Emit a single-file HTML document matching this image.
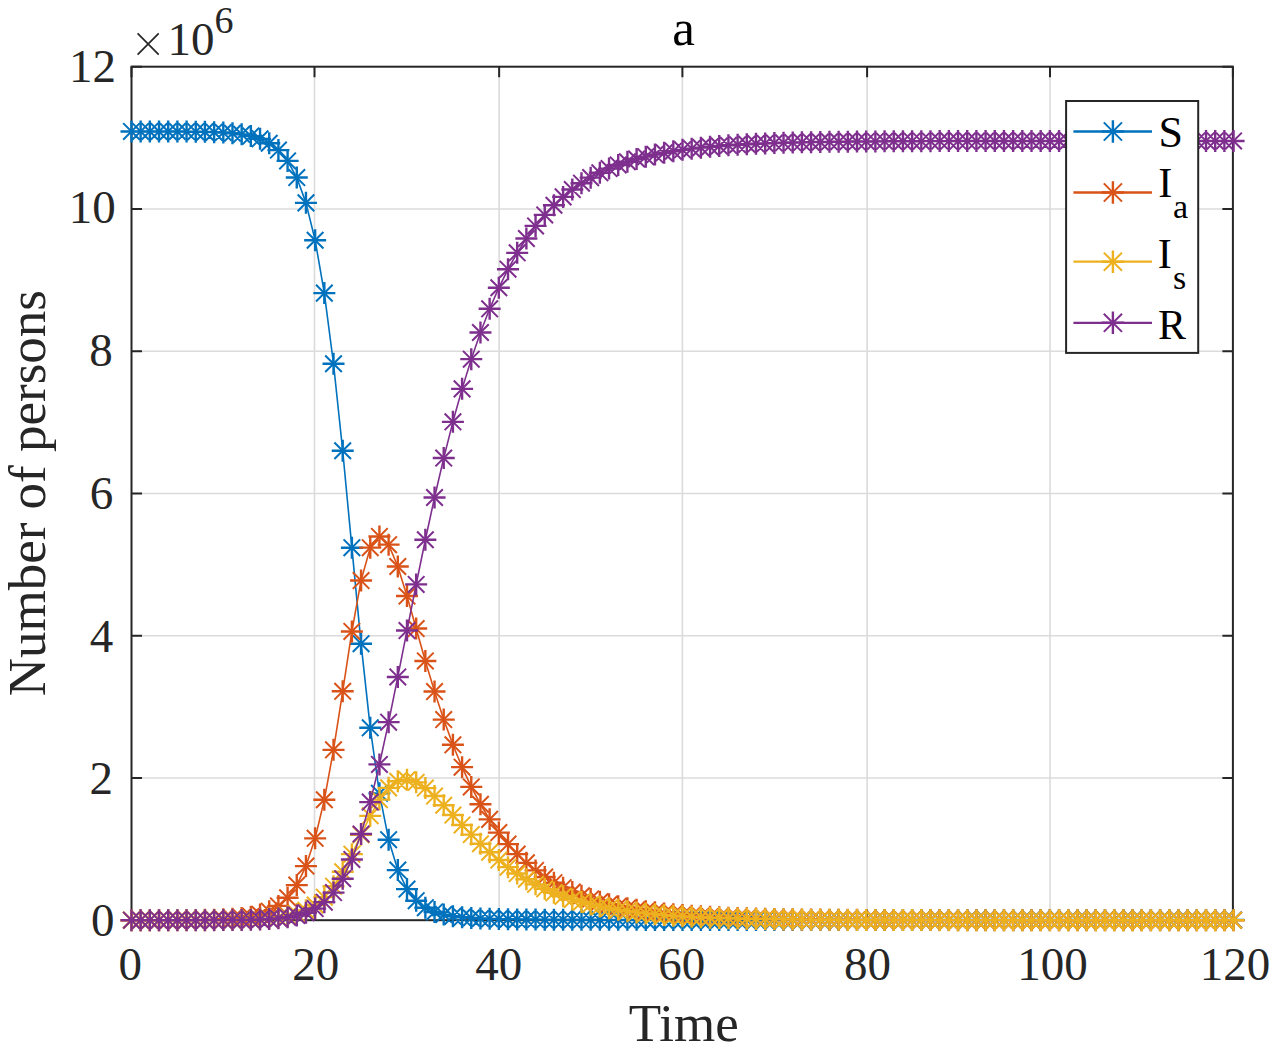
<!DOCTYPE html>
<html><head><meta charset="utf-8"><title>a</title>
<style>html,body{margin:0;padding:0;background:#fff;overflow:hidden}svg{display:block}</style>
</head><body>
<svg width="1275" height="1049" viewBox="0 0 1275 1049">
<rect x="0" y="0" width="1275" height="1049" fill="#fff"/>
<defs><clipPath id="ax"><rect x="131.46" y="66.7" width="1102.1" height="853.5"/></clipPath></defs>
<path d="M314.50 66.70V920.20M499.15 66.70V920.20M682.40 66.70V920.20M867.10 66.70V920.20M1050.00 66.70V920.20M131.50 777.95H1232.90M131.50 635.70H1232.90M131.50 493.45H1232.90M131.50 351.20H1232.90M131.50 208.95H1232.90" stroke="#dbdbdb" stroke-width="1.6" fill="none"/>
<path d="M131.50 920.20V909.70M131.50 66.70V77.20M314.50 920.20V909.70M314.50 66.70V77.20M499.15 920.20V909.70M499.15 66.70V77.20M682.40 920.20V909.70M682.40 66.70V77.20M867.10 920.20V909.70M867.10 66.70V77.20M1050.00 920.20V909.70M1050.00 66.70V77.20M1232.90 920.20V909.70M1232.90 66.70V77.20M131.50 920.20H142.00M1232.90 920.20H1222.40M131.50 777.95H142.00M1232.90 777.95H1222.40M131.50 635.70H142.00M1232.90 635.70H1222.40M131.50 493.45H142.00M1232.90 493.45H1222.40M131.50 351.20H142.00M1232.90 351.20H1222.40M131.50 208.95H142.00M1232.90 208.95H1222.40M131.50 66.70H142.00M1232.90 66.70H1222.40" stroke="#262626" stroke-width="2" fill="none"/>
<rect x="131.50" y="66.70" width="1101.40" height="853.50" stroke="#262626" stroke-width="2" fill="none"/>
<path d="M131.46 131.44L140.64 131.44L149.83 131.45L159.01 131.47L168.20 131.49L177.38 131.53L186.56 131.60L195.75 131.70L204.93 131.87L214.12 132.14L223.30 132.57L232.49 133.26L241.67 134.35L250.85 136.09L260.04 138.85L269.22 143.22L278.41 150.11L287.59 160.90L296.77 177.57L305.96 202.87L315.14 240.23L324.33 293.12L333.51 363.74L342.70 450.75L351.88 547.68L361.06 643.69L370.25 727.79L379.43 793.35L388.62 839.68L397.80 870.09L406.99 889.10L416.17 900.68L425.35 907.68L434.54 911.94L443.72 914.58L452.91 916.24L462.09 917.32L471.27 918.03L480.46 918.52L489.64 918.86L498.83 919.10L508.01 919.28L517.19 919.41L526.38 919.51L535.56 919.59L544.75 919.65L553.93 919.69L563.12 919.73L572.30 919.76L581.48 919.79L590.67 919.81L599.85 919.83L609.04 919.84L618.22 919.85L627.40 919.86L636.59 919.87L645.77 919.88L654.96 919.89L664.14 919.89L673.33 919.90L682.51 919.90L691.69 919.90L700.88 919.91L710.06 919.91L719.25 919.91L728.43 919.91L737.62 919.91L746.80 919.91L755.98 919.92L765.17 919.92L774.35 919.92L783.54 919.92L792.72 919.92L801.90 919.92L811.09 919.92L820.27 919.92L829.46 919.92L838.64 919.92L847.82 919.92L857.01 919.92L866.19 919.92L875.38 919.92L884.56 919.92L893.75 919.92L902.93 919.92L912.11 919.92L921.30 919.92L930.48 919.92L939.67 919.92L948.85 919.92L958.03 919.92L967.22 919.92L976.40 919.92L985.59 919.92L994.77 919.92L1003.96 919.92L1013.14 919.92L1022.32 919.92L1031.51 919.92L1040.69 919.92L1049.88 919.92L1059.06 919.92L1068.24 919.92L1077.43 919.92L1086.61 919.92L1095.80 919.92L1104.98 919.92L1114.17 919.92L1123.35 919.92L1132.53 919.92L1141.72 919.92L1150.90 919.92L1160.09 919.92L1169.27 919.92L1178.45 919.92L1187.64 919.92L1196.82 919.92L1206.01 919.92L1215.19 919.92L1224.38 919.92L1233.56 919.92" stroke="#0072BD" stroke-width="1.6" fill="none" stroke-linejoin="round" clip-path="url(#ax)"/>
<path d="M123.16 123.14L139.76 139.74M123.16 139.74L139.76 123.14M132.34 123.14L148.94 139.74M132.34 139.74L148.94 123.14M141.53 123.15L158.13 139.75M141.53 139.75L158.13 123.15M150.71 123.17L167.31 139.77M150.71 139.77L167.31 123.17M159.90 123.19L176.50 139.79M159.90 139.79L176.50 123.19M169.08 123.23L185.68 139.83M169.08 139.83L185.68 123.23M178.26 123.30L194.87 139.90M178.26 139.90L194.87 123.30M187.45 123.40L204.05 140.00M187.45 140.00L204.05 123.40M196.63 123.57L213.23 140.17M196.63 140.17L213.23 123.57M205.82 123.84L222.42 140.44M205.82 140.44L222.42 123.84M215.00 124.27L231.60 140.87M215.00 140.87L231.60 124.27M224.19 124.96L240.79 141.56M224.19 141.56L240.79 124.96M233.37 126.05L249.97 142.65M233.37 142.65L249.97 126.05M242.55 127.79L259.15 144.39M242.55 144.39L259.15 127.79M251.74 130.55L268.34 147.15M251.74 147.15L268.34 130.55M260.92 134.92L277.52 151.52M260.92 151.52L277.52 134.92M270.11 141.81L286.71 158.41M270.11 158.41L286.71 141.81M279.29 152.60L295.89 169.20M279.29 169.20L295.89 152.60M288.47 169.27L305.07 185.87M288.47 185.87L305.07 169.27M297.66 194.57L314.26 211.17M297.66 211.17L314.26 194.57M306.84 231.93L323.44 248.53M306.84 248.53L323.44 231.93M316.03 284.82L332.63 301.42M316.03 301.42L332.63 284.82M325.21 355.44L341.81 372.04M325.21 372.04L341.81 355.44M334.40 442.45L351.00 459.05M334.40 459.05L351.00 442.45M343.58 539.38L360.18 555.98M343.58 555.98L360.18 539.38M352.76 635.39L369.36 651.99M352.76 651.99L369.36 635.39M361.95 719.49L378.55 736.09M361.95 736.09L378.55 719.49M371.13 785.05L387.73 801.65M371.13 801.65L387.73 785.05M380.32 831.38L396.92 847.98M380.32 847.98L396.92 831.38M389.50 861.79L406.10 878.39M389.50 878.39L406.10 861.79M398.69 880.80L415.29 897.40M398.69 897.40L415.29 880.80M407.87 892.38L424.47 908.98M407.87 908.98L424.47 892.38M417.05 899.38L433.65 915.98M417.05 915.98L433.65 899.38M426.24 903.64L442.84 920.24M426.24 920.24L442.84 903.64M435.42 906.28L452.02 922.88M435.42 922.88L452.02 906.28M444.61 907.94L461.21 924.54M444.61 924.54L461.21 907.94M453.79 909.02L470.39 925.62M453.79 925.62L470.39 909.02M462.97 909.73L479.57 926.33M462.97 926.33L479.57 909.73M472.16 910.22L488.76 926.82M472.16 926.82L488.76 910.22M481.34 910.56L497.94 927.16M481.34 927.16L497.94 910.56M490.53 910.80L507.13 927.40M490.53 927.40L507.13 910.80M499.71 910.98L516.31 927.58M499.71 927.58L516.31 910.98M508.89 911.11L525.49 927.71M508.89 927.71L525.49 911.11M518.08 911.21L534.68 927.81M518.08 927.81L534.68 911.21M527.26 911.29L543.86 927.89M527.26 927.89L543.86 911.29M536.45 911.35L553.05 927.95M536.45 927.95L553.05 911.35M545.63 911.39L562.23 927.99M545.63 927.99L562.23 911.39M554.82 911.43L571.42 928.03M554.82 928.03L571.42 911.43M564.00 911.46L580.60 928.06M564.00 928.06L580.60 911.46M573.18 911.49L589.78 928.09M573.18 928.09L589.78 911.49M582.37 911.51L598.97 928.11M582.37 928.11L598.97 911.51M591.55 911.53L608.15 928.13M591.55 928.13L608.15 911.53M600.74 911.54L617.34 928.14M600.74 928.14L617.34 911.54M609.92 911.55L626.52 928.15M609.92 928.15L626.52 911.55M619.11 911.56L635.70 928.16M619.11 928.16L635.70 911.56M628.29 911.57L644.89 928.17M628.29 928.17L644.89 911.57M637.47 911.58L654.07 928.18M637.47 928.18L654.07 911.58M646.66 911.59L663.26 928.19M646.66 928.19L663.26 911.59M655.84 911.59L672.44 928.19M655.84 928.19L672.44 911.59M665.03 911.60L681.63 928.20M665.03 928.20L681.63 911.60M674.21 911.60L690.81 928.20M674.21 928.20L690.81 911.60M683.39 911.60L699.99 928.20M683.39 928.20L699.99 911.60M692.58 911.61L709.18 928.21M692.58 928.21L709.18 911.61M701.76 911.61L718.36 928.21M701.76 928.21L718.36 911.61M710.95 911.61L727.55 928.21M710.95 928.21L727.55 911.61M720.13 911.61L736.73 928.21M720.13 928.21L736.73 911.61M729.32 911.61L745.91 928.21M729.32 928.21L745.91 911.61M738.50 911.61L755.10 928.21M738.50 928.21L755.10 911.61M747.68 911.62L764.28 928.22M747.68 928.22L764.28 911.62M756.87 911.62L773.47 928.22M756.87 928.22L773.47 911.62M766.05 911.62L782.65 928.22M766.05 928.22L782.65 911.62M775.24 911.62L791.84 928.22M775.24 928.22L791.84 911.62M784.42 911.62L801.02 928.22M784.42 928.22L801.02 911.62M793.60 911.62L810.20 928.22M793.60 928.22L810.20 911.62M802.79 911.62L819.39 928.22M802.79 928.22L819.39 911.62M811.97 911.62L828.57 928.22M811.97 928.22L828.57 911.62M821.16 911.62L837.76 928.22M821.16 928.22L837.76 911.62M830.34 911.62L846.94 928.22M830.34 928.22L846.94 911.62M839.52 911.62L856.12 928.22M839.52 928.22L856.12 911.62M848.71 911.62L865.31 928.22M848.71 928.22L865.31 911.62M857.89 911.62L874.49 928.22M857.89 928.22L874.49 911.62M867.08 911.62L883.68 928.22M867.08 928.22L883.68 911.62M876.26 911.62L892.86 928.22M876.26 928.22L892.86 911.62M885.45 911.62L902.05 928.22M885.45 928.22L902.05 911.62M894.63 911.62L911.23 928.22M894.63 928.22L911.23 911.62M903.81 911.62L920.41 928.22M903.81 928.22L920.41 911.62M913.00 911.62L929.60 928.22M913.00 928.22L929.60 911.62M922.18 911.62L938.78 928.22M922.18 928.22L938.78 911.62M931.37 911.62L947.97 928.22M931.37 928.22L947.97 911.62M940.55 911.62L957.15 928.22M940.55 928.22L957.15 911.62M949.74 911.62L966.33 928.22M949.74 928.22L966.33 911.62M958.92 911.62L975.52 928.22M958.92 928.22L975.52 911.62M968.10 911.62L984.70 928.22M968.10 928.22L984.70 911.62M977.29 911.62L993.89 928.22M977.29 928.22L993.89 911.62M986.47 911.62L1003.07 928.22M986.47 928.22L1003.07 911.62M995.66 911.62L1012.26 928.22M995.66 928.22L1012.26 911.62M1004.84 911.62L1021.44 928.22M1004.84 928.22L1021.44 911.62M1014.02 911.62L1030.62 928.22M1014.02 928.22L1030.62 911.62M1023.21 911.62L1039.81 928.22M1023.21 928.22L1039.81 911.62M1032.39 911.62L1048.99 928.22M1032.39 928.22L1048.99 911.62M1041.58 911.62L1058.18 928.22M1041.58 928.22L1058.18 911.62M1050.76 911.62L1067.36 928.22M1050.76 928.22L1067.36 911.62M1059.94 911.62L1076.54 928.22M1059.94 928.22L1076.54 911.62M1069.13 911.62L1085.73 928.22M1069.13 928.22L1085.73 911.62M1078.31 911.62L1094.91 928.22M1078.31 928.22L1094.91 911.62M1087.50 911.62L1104.10 928.22M1087.50 928.22L1104.10 911.62M1096.68 911.62L1113.28 928.22M1096.68 928.22L1113.28 911.62M1105.87 911.62L1122.47 928.22M1105.87 928.22L1122.47 911.62M1115.05 911.62L1131.65 928.22M1115.05 928.22L1131.65 911.62M1124.23 911.62L1140.83 928.22M1124.23 928.22L1140.83 911.62M1133.42 911.62L1150.02 928.22M1133.42 928.22L1150.02 911.62M1142.60 911.62L1159.20 928.22M1142.60 928.22L1159.20 911.62M1151.79 911.62L1168.39 928.22M1151.79 928.22L1168.39 911.62M1160.97 911.62L1177.57 928.22M1160.97 928.22L1177.57 911.62M1170.15 911.62L1186.75 928.22M1170.15 928.22L1186.75 911.62M1179.34 911.62L1195.94 928.22M1179.34 928.22L1195.94 911.62M1188.52 911.62L1205.12 928.22M1188.52 928.22L1205.12 911.62M1197.71 911.62L1214.31 928.22M1197.71 928.22L1214.31 911.62M1206.89 911.62L1223.49 928.22M1206.89 928.22L1223.49 911.62M1216.08 911.62L1232.68 928.22M1216.08 928.22L1232.68 911.62M1225.26 911.62L1241.86 928.22M1225.26 928.22L1241.86 911.62" stroke="#0072BD" stroke-width="2.0" stroke-dasharray="none" fill="none"/><path d="M120.46 131.44H142.46M131.46 120.44V142.44M129.64 131.44H151.64M140.64 120.44V142.44M138.83 131.45H160.83M149.83 120.45V142.45M148.01 131.47H170.01M159.01 120.47V142.47M157.20 131.49H179.20M168.20 120.49V142.49M166.38 131.53H188.38M177.38 120.53V142.53M175.56 131.60H197.56M186.56 120.60V142.60M184.75 131.70H206.75M195.75 120.70V142.70M193.93 131.87H215.93M204.93 120.87V142.87M203.12 132.14H225.12M214.12 121.14V143.14M212.30 132.57H234.30M223.30 121.57V143.57M221.49 133.26H243.49M232.49 122.26V144.26M230.67 134.35H252.67M241.67 123.35V145.35M239.85 136.09H261.85M250.85 125.09V147.09M249.04 138.85H271.04M260.04 127.85V149.85M258.22 143.22H280.22M269.22 132.22V154.22M267.41 150.11H289.41M278.41 139.11V161.11M276.59 160.90H298.59M287.59 149.90V171.90M285.77 177.57H307.77M296.77 166.57V188.57M294.96 202.87H316.96M305.96 191.87V213.87M304.14 240.23H326.14M315.14 229.23V251.23M313.33 293.12H335.33M324.33 282.12V304.12M322.51 363.74H344.51M333.51 352.74V374.74M331.70 450.75H353.70M342.70 439.75V461.75M340.88 547.68H362.88M351.88 536.68V558.68M350.06 643.69H372.06M361.06 632.69V654.69M359.25 727.79H381.25M370.25 716.79V738.79M368.43 793.35H390.43M379.43 782.35V804.35M377.62 839.68H399.62M388.62 828.68V850.68M386.80 870.09H408.80M397.80 859.09V881.09M395.99 889.10H417.99M406.99 878.10V900.10M405.17 900.68H427.17M416.17 889.68V911.68M414.35 907.68H436.35M425.35 896.68V918.68M423.54 911.94H445.54M434.54 900.94V922.94M432.72 914.58H454.72M443.72 903.58V925.58M441.91 916.24H463.91M452.91 905.24V927.24M451.09 917.32H473.09M462.09 906.32V928.32M460.27 918.03H482.27M471.27 907.03V929.03M469.46 918.52H491.46M480.46 907.52V929.52M478.64 918.86H500.64M489.64 907.86V929.86M487.83 919.10H509.83M498.83 908.10V930.10M497.01 919.28H519.01M508.01 908.28V930.28M506.19 919.41H528.19M517.19 908.41V930.41M515.38 919.51H537.38M526.38 908.51V930.51M524.56 919.59H546.56M535.56 908.59V930.59M533.75 919.65H555.75M544.75 908.65V930.65M542.93 919.69H564.93M553.93 908.69V930.69M552.12 919.73H574.12M563.12 908.73V930.73M561.30 919.76H583.30M572.30 908.76V930.76M570.48 919.79H592.48M581.48 908.79V930.79M579.67 919.81H601.67M590.67 908.81V930.81M588.85 919.83H610.85M599.85 908.83V930.83M598.04 919.84H620.04M609.04 908.84V930.84M607.22 919.85H629.22M618.22 908.85V930.85M616.40 919.86H638.40M627.40 908.86V930.86M625.59 919.87H647.59M636.59 908.87V930.87M634.77 919.88H656.77M645.77 908.88V930.88M643.96 919.89H665.96M654.96 908.89V930.89M653.14 919.89H675.14M664.14 908.89V930.89M662.33 919.90H684.33M673.33 908.90V930.90M671.51 919.90H693.51M682.51 908.90V930.90M680.69 919.90H702.69M691.69 908.90V930.90M689.88 919.91H711.88M700.88 908.91V930.91M699.06 919.91H721.06M710.06 908.91V930.91M708.25 919.91H730.25M719.25 908.91V930.91M717.43 919.91H739.43M728.43 908.91V930.91M726.62 919.91H748.62M737.62 908.91V930.91M735.80 919.91H757.80M746.80 908.91V930.91M744.98 919.92H766.98M755.98 908.92V930.92M754.17 919.92H776.17M765.17 908.92V930.92M763.35 919.92H785.35M774.35 908.92V930.92M772.54 919.92H794.54M783.54 908.92V930.92M781.72 919.92H803.72M792.72 908.92V930.92M790.90 919.92H812.90M801.90 908.92V930.92M800.09 919.92H822.09M811.09 908.92V930.92M809.27 919.92H831.27M820.27 908.92V930.92M818.46 919.92H840.46M829.46 908.92V930.92M827.64 919.92H849.64M838.64 908.92V930.92M836.82 919.92H858.82M847.82 908.92V930.92M846.01 919.92H868.01M857.01 908.92V930.92M855.19 919.92H877.19M866.19 908.92V930.92M864.38 919.92H886.38M875.38 908.92V930.92M873.56 919.92H895.56M884.56 908.92V930.92M882.75 919.92H904.75M893.75 908.92V930.92M891.93 919.92H913.93M902.93 908.92V930.92M901.11 919.92H923.11M912.11 908.92V930.92M910.30 919.92H932.30M921.30 908.92V930.92M919.48 919.92H941.48M930.48 908.92V930.92M928.67 919.92H950.67M939.67 908.92V930.92M937.85 919.92H959.85M948.85 908.92V930.92M947.03 919.92H969.03M958.03 908.92V930.92M956.22 919.92H978.22M967.22 908.92V930.92M965.40 919.92H987.40M976.40 908.92V930.92M974.59 919.92H996.59M985.59 908.92V930.92M983.77 919.92H1005.77M994.77 908.92V930.92M992.96 919.92H1014.96M1003.96 908.92V930.92M1002.14 919.92H1024.14M1013.14 908.92V930.92M1011.32 919.92H1033.32M1022.32 908.92V930.92M1020.51 919.92H1042.51M1031.51 908.92V930.92M1029.69 919.92H1051.69M1040.69 908.92V930.92M1038.88 919.92H1060.88M1049.88 908.92V930.92M1048.06 919.92H1070.06M1059.06 908.92V930.92M1057.24 919.92H1079.24M1068.24 908.92V930.92M1066.43 919.92H1088.43M1077.43 908.92V930.92M1075.61 919.92H1097.61M1086.61 908.92V930.92M1084.80 919.92H1106.80M1095.80 908.92V930.92M1093.98 919.92H1115.98M1104.98 908.92V930.92M1103.17 919.92H1125.17M1114.17 908.92V930.92M1112.35 919.92H1134.35M1123.35 908.92V930.92M1121.53 919.92H1143.53M1132.53 908.92V930.92M1130.72 919.92H1152.72M1141.72 908.92V930.92M1139.90 919.92H1161.90M1150.90 908.92V930.92M1149.09 919.92H1171.09M1160.09 908.92V930.92M1158.27 919.92H1180.27M1169.27 908.92V930.92M1167.45 919.92H1189.45M1178.45 908.92V930.92M1176.64 919.92H1198.64M1187.64 908.92V930.92M1185.82 919.92H1207.82M1196.82 908.92V930.92M1195.01 919.92H1217.01M1206.01 908.92V930.92M1204.19 919.92H1226.19M1215.19 908.92V930.92M1213.38 919.92H1235.38M1224.38 908.92V930.92M1222.56 919.92H1244.56M1233.56 908.92V930.92" stroke="#0072BD" stroke-width="2.4" fill="none"/>
<path d="M131.46 920.19L140.64 920.19L149.83 920.18L159.01 920.17L168.20 920.15L177.38 920.11L186.56 920.06L195.75 919.98L204.93 919.85L214.12 919.65L223.30 919.32L232.49 918.79L241.67 917.96L250.85 916.63L260.04 914.52L269.22 911.18L278.41 905.92L287.59 897.73L296.77 885.11L305.96 866.09L315.14 838.35L324.33 799.78L333.51 749.84L342.70 691.32L351.88 631.46L361.06 580.57L370.25 547.66L379.43 536.45L388.62 544.64L397.80 566.52L406.99 596.06L416.17 628.54L425.35 660.93L434.54 691.55L443.72 719.59L452.91 744.79L462.09 767.17L471.27 786.91L480.46 804.23L489.64 819.37L498.83 832.59L508.01 844.10L517.19 854.12L526.38 862.84L535.56 870.41L544.75 876.99L553.93 882.71L563.12 887.67L572.30 891.98L581.48 895.72L590.67 898.96L599.85 901.78L609.04 904.22L618.22 906.34L627.40 908.18L636.59 909.77L645.77 911.15L654.96 912.35L664.14 913.40L673.33 914.30L682.51 915.08L691.69 915.76L700.88 916.35L710.06 916.86L719.25 917.30L728.43 917.69L737.62 918.02L746.80 918.31L755.98 918.56L765.17 918.78L774.35 918.97L783.54 919.13L792.72 919.27L801.90 919.40L811.09 919.50L820.27 919.60L829.46 919.68L838.64 919.75L847.82 919.81L857.01 919.86L866.19 919.90L875.38 919.94L884.56 919.98L893.75 920.01L902.93 920.03L912.11 920.05L921.30 920.07L930.48 920.09L939.67 920.11L948.85 920.12L958.03 920.13L967.22 920.14L976.40 920.15L985.59 920.15L994.77 920.16L1003.96 920.16L1013.14 920.17L1022.32 920.17L1031.51 920.18L1040.69 920.18L1049.88 920.18L1059.06 920.19L1068.24 920.19L1077.43 920.19L1086.61 920.19L1095.80 920.19L1104.98 920.19L1114.17 920.19L1123.35 920.19L1132.53 920.20L1141.72 920.20L1150.90 920.20L1160.09 920.20L1169.27 920.20L1178.45 920.20L1187.64 920.20L1196.82 920.20L1206.01 920.20L1215.19 920.20L1224.38 920.20L1233.56 920.20" stroke="#D95319" stroke-width="1.6" fill="none" stroke-linejoin="round" clip-path="url(#ax)"/>
<path d="M123.16 911.89L139.76 928.49M123.16 928.49L139.76 911.89M132.34 911.89L148.94 928.49M132.34 928.49L148.94 911.89M141.53 911.88L158.13 928.48M141.53 928.48L158.13 911.88M150.71 911.87L167.31 928.47M150.71 928.47L167.31 911.87M159.90 911.85L176.50 928.45M159.90 928.45L176.50 911.85M169.08 911.81L185.68 928.41M169.08 928.41L185.68 911.81M178.26 911.76L194.87 928.36M178.26 928.36L194.87 911.76M187.45 911.68L204.05 928.28M187.45 928.28L204.05 911.68M196.63 911.55L213.23 928.15M196.63 928.15L213.23 911.55M205.82 911.35L222.42 927.95M205.82 927.95L222.42 911.35M215.00 911.02L231.60 927.62M215.00 927.62L231.60 911.02M224.19 910.49L240.79 927.09M224.19 927.09L240.79 910.49M233.37 909.66L249.97 926.26M233.37 926.26L249.97 909.66M242.55 908.33L259.15 924.93M242.55 924.93L259.15 908.33M251.74 906.22L268.34 922.82M251.74 922.82L268.34 906.22M260.92 902.88L277.52 919.48M260.92 919.48L277.52 902.88M270.11 897.62L286.71 914.22M270.11 914.22L286.71 897.62M279.29 889.43L295.89 906.03M279.29 906.03L295.89 889.43M288.47 876.81L305.07 893.41M288.47 893.41L305.07 876.81M297.66 857.79L314.26 874.39M297.66 874.39L314.26 857.79M306.84 830.05L323.44 846.65M306.84 846.65L323.44 830.05M316.03 791.48L332.63 808.08M316.03 808.08L332.63 791.48M325.21 741.54L341.81 758.14M325.21 758.14L341.81 741.54M334.40 683.02L351.00 699.62M334.40 699.62L351.00 683.02M343.58 623.16L360.18 639.76M343.58 639.76L360.18 623.16M352.76 572.27L369.36 588.87M352.76 588.87L369.36 572.27M361.95 539.36L378.55 555.96M361.95 555.96L378.55 539.36M371.13 528.15L387.73 544.75M371.13 544.75L387.73 528.15M380.32 536.34L396.92 552.94M380.32 552.94L396.92 536.34M389.50 558.22L406.10 574.82M389.50 574.82L406.10 558.22M398.69 587.76L415.29 604.36M398.69 604.36L415.29 587.76M407.87 620.24L424.47 636.84M407.87 636.84L424.47 620.24M417.05 652.63L433.65 669.23M417.05 669.23L433.65 652.63M426.24 683.25L442.84 699.85M426.24 699.85L442.84 683.25M435.42 711.29L452.02 727.89M435.42 727.89L452.02 711.29M444.61 736.49L461.21 753.09M444.61 753.09L461.21 736.49M453.79 758.87L470.39 775.47M453.79 775.47L470.39 758.87M462.97 778.61L479.57 795.21M462.97 795.21L479.57 778.61M472.16 795.93L488.76 812.53M472.16 812.53L488.76 795.93M481.34 811.07L497.94 827.67M481.34 827.67L497.94 811.07M490.53 824.29L507.13 840.89M490.53 840.89L507.13 824.29M499.71 835.80L516.31 852.40M499.71 852.40L516.31 835.80M508.89 845.82L525.49 862.42M508.89 862.42L525.49 845.82M518.08 854.54L534.68 871.14M518.08 871.14L534.68 854.54M527.26 862.11L543.86 878.71M527.26 878.71L543.86 862.11M536.45 868.69L553.05 885.29M536.45 885.29L553.05 868.69M545.63 874.41L562.23 891.01M545.63 891.01L562.23 874.41M554.82 879.37L571.42 895.97M554.82 895.97L571.42 879.37M564.00 883.68L580.60 900.28M564.00 900.28L580.60 883.68M573.18 887.42L589.78 904.02M573.18 904.02L589.78 887.42M582.37 890.66L598.97 907.26M582.37 907.26L598.97 890.66M591.55 893.48L608.15 910.08M591.55 910.08L608.15 893.48M600.74 895.92L617.34 912.52M600.74 912.52L617.34 895.92M609.92 898.04L626.52 914.64M609.92 914.64L626.52 898.04M619.11 899.88L635.70 916.48M619.11 916.48L635.70 899.88M628.29 901.47L644.89 918.07M628.29 918.07L644.89 901.47M637.47 902.85L654.07 919.45M637.47 919.45L654.07 902.85M646.66 904.05L663.26 920.65M646.66 920.65L663.26 904.05M655.84 905.10L672.44 921.70M655.84 921.70L672.44 905.10M665.03 906.00L681.63 922.60M665.03 922.60L681.63 906.00M674.21 906.78L690.81 923.38M674.21 923.38L690.81 906.78M683.39 907.46L699.99 924.06M683.39 924.06L699.99 907.46M692.58 908.05L709.18 924.65M692.58 924.65L709.18 908.05M701.76 908.56L718.36 925.16M701.76 925.16L718.36 908.56M710.95 909.00L727.55 925.60M710.95 925.60L727.55 909.00M720.13 909.39L736.73 925.99M720.13 925.99L736.73 909.39M729.32 909.72L745.91 926.32M729.32 926.32L745.91 909.72M738.50 910.01L755.10 926.61M738.50 926.61L755.10 910.01M747.68 910.26L764.28 926.86M747.68 926.86L764.28 910.26M756.87 910.48L773.47 927.08M756.87 927.08L773.47 910.48M766.05 910.67L782.65 927.27M766.05 927.27L782.65 910.67M775.24 910.83L791.84 927.43M775.24 927.43L791.84 910.83M784.42 910.97L801.02 927.57M784.42 927.57L801.02 910.97M793.60 911.10L810.20 927.70M793.60 927.70L810.20 911.10M802.79 911.20L819.39 927.80M802.79 927.80L819.39 911.20M811.97 911.30L828.57 927.90M811.97 927.90L828.57 911.30M821.16 911.38L837.76 927.98M821.16 927.98L837.76 911.38M830.34 911.45L846.94 928.05M830.34 928.05L846.94 911.45M839.52 911.51L856.12 928.11M839.52 928.11L856.12 911.51M848.71 911.56L865.31 928.16M848.71 928.16L865.31 911.56M857.89 911.60L874.49 928.20M857.89 928.20L874.49 911.60M867.08 911.64L883.68 928.24M867.08 928.24L883.68 911.64M876.26 911.68L892.86 928.28M876.26 928.28L892.86 911.68M885.45 911.71L902.05 928.31M885.45 928.31L902.05 911.71M894.63 911.73L911.23 928.33M894.63 928.33L911.23 911.73M903.81 911.75L920.41 928.35M903.81 928.35L920.41 911.75M913.00 911.77L929.60 928.37M913.00 928.37L929.60 911.77M922.18 911.79L938.78 928.39M922.18 928.39L938.78 911.79M931.37 911.81L947.97 928.41M931.37 928.41L947.97 911.81M940.55 911.82L957.15 928.42M940.55 928.42L957.15 911.82M949.74 911.83L966.33 928.43M949.74 928.43L966.33 911.83M958.92 911.84L975.52 928.44M958.92 928.44L975.52 911.84M968.10 911.85L984.70 928.45M968.10 928.45L984.70 911.85M977.29 911.85L993.89 928.45M977.29 928.45L993.89 911.85M986.47 911.86L1003.07 928.46M986.47 928.46L1003.07 911.86M995.66 911.86L1012.26 928.46M995.66 928.46L1012.26 911.86M1004.84 911.87L1021.44 928.47M1004.84 928.47L1021.44 911.87M1014.02 911.87L1030.62 928.47M1014.02 928.47L1030.62 911.87M1023.21 911.88L1039.81 928.48M1023.21 928.48L1039.81 911.88M1032.39 911.88L1048.99 928.48M1032.39 928.48L1048.99 911.88M1041.58 911.88L1058.18 928.48M1041.58 928.48L1058.18 911.88M1050.76 911.89L1067.36 928.49M1050.76 928.49L1067.36 911.89M1059.94 911.89L1076.54 928.49M1059.94 928.49L1076.54 911.89M1069.13 911.89L1085.73 928.49M1069.13 928.49L1085.73 911.89M1078.31 911.89L1094.91 928.49M1078.31 928.49L1094.91 911.89M1087.50 911.89L1104.10 928.49M1087.50 928.49L1104.10 911.89M1096.68 911.89L1113.28 928.49M1096.68 928.49L1113.28 911.89M1105.87 911.89L1122.47 928.49M1105.87 928.49L1122.47 911.89M1115.05 911.89L1131.65 928.49M1115.05 928.49L1131.65 911.89M1124.23 911.90L1140.83 928.50M1124.23 928.50L1140.83 911.90M1133.42 911.90L1150.02 928.50M1133.42 928.50L1150.02 911.90M1142.60 911.90L1159.20 928.50M1142.60 928.50L1159.20 911.90M1151.79 911.90L1168.39 928.50M1151.79 928.50L1168.39 911.90M1160.97 911.90L1177.57 928.50M1160.97 928.50L1177.57 911.90M1170.15 911.90L1186.75 928.50M1170.15 928.50L1186.75 911.90M1179.34 911.90L1195.94 928.50M1179.34 928.50L1195.94 911.90M1188.52 911.90L1205.12 928.50M1188.52 928.50L1205.12 911.90M1197.71 911.90L1214.31 928.50M1197.71 928.50L1214.31 911.90M1206.89 911.90L1223.49 928.50M1206.89 928.50L1223.49 911.90M1216.08 911.90L1232.68 928.50M1216.08 928.50L1232.68 911.90M1225.26 911.90L1241.86 928.50M1225.26 928.50L1241.86 911.90" stroke="#D95319" stroke-width="2.0" stroke-dasharray="none" fill="none"/><path d="M120.46 920.19H142.46M131.46 909.19V931.19M129.64 920.19H151.64M140.64 909.19V931.19M138.83 920.18H160.83M149.83 909.18V931.18M148.01 920.17H170.01M159.01 909.17V931.17M157.20 920.15H179.20M168.20 909.15V931.15M166.38 920.11H188.38M177.38 909.11V931.11M175.56 920.06H197.56M186.56 909.06V931.06M184.75 919.98H206.75M195.75 908.98V930.98M193.93 919.85H215.93M204.93 908.85V930.85M203.12 919.65H225.12M214.12 908.65V930.65M212.30 919.32H234.30M223.30 908.32V930.32M221.49 918.79H243.49M232.49 907.79V929.79M230.67 917.96H252.67M241.67 906.96V928.96M239.85 916.63H261.85M250.85 905.63V927.63M249.04 914.52H271.04M260.04 903.52V925.52M258.22 911.18H280.22M269.22 900.18V922.18M267.41 905.92H289.41M278.41 894.92V916.92M276.59 897.73H298.59M287.59 886.73V908.73M285.77 885.11H307.77M296.77 874.11V896.11M294.96 866.09H316.96M305.96 855.09V877.09M304.14 838.35H326.14M315.14 827.35V849.35M313.33 799.78H335.33M324.33 788.78V810.78M322.51 749.84H344.51M333.51 738.84V760.84M331.70 691.32H353.70M342.70 680.32V702.32M340.88 631.46H362.88M351.88 620.46V642.46M350.06 580.57H372.06M361.06 569.57V591.57M359.25 547.66H381.25M370.25 536.66V558.66M368.43 536.45H390.43M379.43 525.45V547.45M377.62 544.64H399.62M388.62 533.64V555.64M386.80 566.52H408.80M397.80 555.52V577.52M395.99 596.06H417.99M406.99 585.06V607.06M405.17 628.54H427.17M416.17 617.54V639.54M414.35 660.93H436.35M425.35 649.93V671.93M423.54 691.55H445.54M434.54 680.55V702.55M432.72 719.59H454.72M443.72 708.59V730.59M441.91 744.79H463.91M452.91 733.79V755.79M451.09 767.17H473.09M462.09 756.17V778.17M460.27 786.91H482.27M471.27 775.91V797.91M469.46 804.23H491.46M480.46 793.23V815.23M478.64 819.37H500.64M489.64 808.37V830.37M487.83 832.59H509.83M498.83 821.59V843.59M497.01 844.10H519.01M508.01 833.10V855.10M506.19 854.12H528.19M517.19 843.12V865.12M515.38 862.84H537.38M526.38 851.84V873.84M524.56 870.41H546.56M535.56 859.41V881.41M533.75 876.99H555.75M544.75 865.99V887.99M542.93 882.71H564.93M553.93 871.71V893.71M552.12 887.67H574.12M563.12 876.67V898.67M561.30 891.98H583.30M572.30 880.98V902.98M570.48 895.72H592.48M581.48 884.72V906.72M579.67 898.96H601.67M590.67 887.96V909.96M588.85 901.78H610.85M599.85 890.78V912.78M598.04 904.22H620.04M609.04 893.22V915.22M607.22 906.34H629.22M618.22 895.34V917.34M616.40 908.18H638.40M627.40 897.18V919.18M625.59 909.77H647.59M636.59 898.77V920.77M634.77 911.15H656.77M645.77 900.15V922.15M643.96 912.35H665.96M654.96 901.35V923.35M653.14 913.40H675.14M664.14 902.40V924.40M662.33 914.30H684.33M673.33 903.30V925.30M671.51 915.08H693.51M682.51 904.08V926.08M680.69 915.76H702.69M691.69 904.76V926.76M689.88 916.35H711.88M700.88 905.35V927.35M699.06 916.86H721.06M710.06 905.86V927.86M708.25 917.30H730.25M719.25 906.30V928.30M717.43 917.69H739.43M728.43 906.69V928.69M726.62 918.02H748.62M737.62 907.02V929.02M735.80 918.31H757.80M746.80 907.31V929.31M744.98 918.56H766.98M755.98 907.56V929.56M754.17 918.78H776.17M765.17 907.78V929.78M763.35 918.97H785.35M774.35 907.97V929.97M772.54 919.13H794.54M783.54 908.13V930.13M781.72 919.27H803.72M792.72 908.27V930.27M790.90 919.40H812.90M801.90 908.40V930.40M800.09 919.50H822.09M811.09 908.50V930.50M809.27 919.60H831.27M820.27 908.60V930.60M818.46 919.68H840.46M829.46 908.68V930.68M827.64 919.75H849.64M838.64 908.75V930.75M836.82 919.81H858.82M847.82 908.81V930.81M846.01 919.86H868.01M857.01 908.86V930.86M855.19 919.90H877.19M866.19 908.90V930.90M864.38 919.94H886.38M875.38 908.94V930.94M873.56 919.98H895.56M884.56 908.98V930.98M882.75 920.01H904.75M893.75 909.01V931.01M891.93 920.03H913.93M902.93 909.03V931.03M901.11 920.05H923.11M912.11 909.05V931.05M910.30 920.07H932.30M921.30 909.07V931.07M919.48 920.09H941.48M930.48 909.09V931.09M928.67 920.11H950.67M939.67 909.11V931.11M937.85 920.12H959.85M948.85 909.12V931.12M947.03 920.13H969.03M958.03 909.13V931.13M956.22 920.14H978.22M967.22 909.14V931.14M965.40 920.15H987.40M976.40 909.15V931.15M974.59 920.15H996.59M985.59 909.15V931.15M983.77 920.16H1005.77M994.77 909.16V931.16M992.96 920.16H1014.96M1003.96 909.16V931.16M1002.14 920.17H1024.14M1013.14 909.17V931.17M1011.32 920.17H1033.32M1022.32 909.17V931.17M1020.51 920.18H1042.51M1031.51 909.18V931.18M1029.69 920.18H1051.69M1040.69 909.18V931.18M1038.88 920.18H1060.88M1049.88 909.18V931.18M1048.06 920.19H1070.06M1059.06 909.19V931.19M1057.24 920.19H1079.24M1068.24 909.19V931.19M1066.43 920.19H1088.43M1077.43 909.19V931.19M1075.61 920.19H1097.61M1086.61 909.19V931.19M1084.80 920.19H1106.80M1095.80 909.19V931.19M1093.98 920.19H1115.98M1104.98 909.19V931.19M1103.17 920.19H1125.17M1114.17 909.19V931.19M1112.35 920.19H1134.35M1123.35 909.19V931.19M1121.53 920.20H1143.53M1132.53 909.20V931.20M1130.72 920.20H1152.72M1141.72 909.20V931.20M1139.90 920.20H1161.90M1150.90 909.20V931.20M1149.09 920.20H1171.09M1160.09 909.20V931.20M1158.27 920.20H1180.27M1169.27 909.20V931.20M1167.45 920.20H1189.45M1178.45 909.20V931.20M1176.64 920.20H1198.64M1187.64 909.20V931.20M1185.82 920.20H1207.82M1196.82 909.20V931.20M1195.01 920.20H1217.01M1206.01 909.20V931.20M1204.19 920.20H1226.19M1215.19 909.20V931.20M1213.38 920.20H1235.38M1224.38 909.20V931.20M1222.56 920.20H1244.56M1233.56 909.20V931.20" stroke="#D95319" stroke-width="2.4" fill="none"/>
<path d="M131.46 920.20L140.64 920.20L149.83 920.20L159.01 920.19L168.20 920.19L177.38 920.19L186.56 920.18L195.75 920.16L204.93 920.14L214.12 920.10L223.30 920.04L232.49 919.95L241.67 919.81L250.85 919.57L260.04 919.20L269.22 918.60L278.41 917.67L287.59 916.19L296.77 913.89L305.96 910.34L315.14 904.99L324.33 897.16L333.51 886.18L342.70 871.73L351.88 854.15L361.06 834.80L370.25 815.84L379.43 799.62L388.62 787.87L397.80 781.30L406.99 779.72L416.17 782.33L425.35 788.11L434.54 796.04L443.72 805.25L452.91 815.05L462.09 824.94L471.27 834.58L480.46 843.72L489.64 852.23L498.83 860.04L508.01 867.14L517.19 873.54L526.38 879.26L535.56 884.34L544.75 888.85L553.93 892.82L563.12 896.32L572.30 899.39L581.48 902.08L590.67 904.43L599.85 906.49L609.04 908.28L618.22 909.84L627.40 911.20L636.59 912.38L645.77 913.41L654.96 914.31L664.14 915.09L673.33 915.76L682.51 916.35L691.69 916.86L700.88 917.30L710.06 917.68L719.25 918.02L728.43 918.31L737.62 918.56L746.80 918.78L755.98 918.96L765.17 919.13L774.35 919.27L783.54 919.39L792.72 919.50L801.90 919.59L811.09 919.67L820.27 919.74L829.46 919.80L838.64 919.86L847.82 919.90L857.01 919.94L866.19 919.98L875.38 920.01L884.56 920.03L893.75 920.05L902.93 920.07L912.11 920.09L921.30 920.10L930.48 920.12L939.67 920.13L948.85 920.14L958.03 920.15L967.22 920.15L976.40 920.16L985.59 920.16L994.77 920.17L1003.96 920.17L1013.14 920.18L1022.32 920.18L1031.51 920.18L1040.69 920.19L1049.88 920.19L1059.06 920.19L1068.24 920.19L1077.43 920.19L1086.61 920.19L1095.80 920.19L1104.98 920.19L1114.17 920.20L1123.35 920.20L1132.53 920.20L1141.72 920.20L1150.90 920.20L1160.09 920.20L1169.27 920.20L1178.45 920.20L1187.64 920.20L1196.82 920.20L1206.01 920.20L1215.19 920.20L1224.38 920.20L1233.56 920.20" stroke="#EDB120" stroke-width="1.6" fill="none" stroke-linejoin="round" clip-path="url(#ax)"/>
<path d="M123.16 911.90L139.76 928.50M123.16 928.50L139.76 911.90M132.34 911.90L148.94 928.50M132.34 928.50L148.94 911.90M141.53 911.90L158.13 928.50M141.53 928.50L158.13 911.90M150.71 911.89L167.31 928.49M150.71 928.49L167.31 911.89M159.90 911.89L176.50 928.49M159.90 928.49L176.50 911.89M169.08 911.89L185.68 928.49M169.08 928.49L185.68 911.89M178.26 911.88L194.87 928.48M178.26 928.48L194.87 911.88M187.45 911.86L204.05 928.46M187.45 928.46L204.05 911.86M196.63 911.84L213.23 928.44M196.63 928.44L213.23 911.84M205.82 911.80L222.42 928.40M205.82 928.40L222.42 911.80M215.00 911.74L231.60 928.34M215.00 928.34L231.60 911.74M224.19 911.65L240.79 928.25M224.19 928.25L240.79 911.65M233.37 911.51L249.97 928.11M233.37 928.11L249.97 911.51M242.55 911.27L259.15 927.87M242.55 927.87L259.15 911.27M251.74 910.90L268.34 927.50M251.74 927.50L268.34 910.90M260.92 910.30L277.52 926.90M260.92 926.90L277.52 910.30M270.11 909.37L286.71 925.97M270.11 925.97L286.71 909.37M279.29 907.89L295.89 924.49M279.29 924.49L295.89 907.89M288.47 905.59L305.07 922.19M288.47 922.19L305.07 905.59M297.66 902.04L314.26 918.64M297.66 918.64L314.26 902.04M306.84 896.69L323.44 913.29M306.84 913.29L323.44 896.69M316.03 888.86L332.63 905.46M316.03 905.46L332.63 888.86M325.21 877.88L341.81 894.48M325.21 894.48L341.81 877.88M334.40 863.43L351.00 880.03M334.40 880.03L351.00 863.43M343.58 845.85L360.18 862.45M343.58 862.45L360.18 845.85M352.76 826.50L369.36 843.10M352.76 843.10L369.36 826.50M361.95 807.54L378.55 824.14M361.95 824.14L378.55 807.54M371.13 791.32L387.73 807.92M371.13 807.92L387.73 791.32M380.32 779.57L396.92 796.17M380.32 796.17L396.92 779.57M389.50 773.00L406.10 789.60M389.50 789.60L406.10 773.00M398.69 771.42L415.29 788.02M398.69 788.02L415.29 771.42M407.87 774.03L424.47 790.63M407.87 790.63L424.47 774.03M417.05 779.81L433.65 796.41M417.05 796.41L433.65 779.81M426.24 787.74L442.84 804.34M426.24 804.34L442.84 787.74M435.42 796.95L452.02 813.55M435.42 813.55L452.02 796.95M444.61 806.75L461.21 823.35M444.61 823.35L461.21 806.75M453.79 816.64L470.39 833.24M453.79 833.24L470.39 816.64M462.97 826.28L479.57 842.88M462.97 842.88L479.57 826.28M472.16 835.42L488.76 852.02M472.16 852.02L488.76 835.42M481.34 843.93L497.94 860.53M481.34 860.53L497.94 843.93M490.53 851.74L507.13 868.34M490.53 868.34L507.13 851.74M499.71 858.84L516.31 875.44M499.71 875.44L516.31 858.84M508.89 865.24L525.49 881.84M508.89 881.84L525.49 865.24M518.08 870.96L534.68 887.56M518.08 887.56L534.68 870.96M527.26 876.04L543.86 892.64M527.26 892.64L543.86 876.04M536.45 880.55L553.05 897.15M536.45 897.15L553.05 880.55M545.63 884.52L562.23 901.12M545.63 901.12L562.23 884.52M554.82 888.02L571.42 904.62M554.82 904.62L571.42 888.02M564.00 891.09L580.60 907.69M564.00 907.69L580.60 891.09M573.18 893.78L589.78 910.38M573.18 910.38L589.78 893.78M582.37 896.13L598.97 912.73M582.37 912.73L598.97 896.13M591.55 898.19L608.15 914.79M591.55 914.79L608.15 898.19M600.74 899.98L617.34 916.58M600.74 916.58L617.34 899.98M609.92 901.54L626.52 918.14M609.92 918.14L626.52 901.54M619.11 902.90L635.70 919.50M619.11 919.50L635.70 902.90M628.29 904.08L644.89 920.68M628.29 920.68L644.89 904.08M637.47 905.11L654.07 921.71M637.47 921.71L654.07 905.11M646.66 906.01L663.26 922.61M646.66 922.61L663.26 906.01M655.84 906.79L672.44 923.39M655.84 923.39L672.44 906.79M665.03 907.46L681.63 924.06M665.03 924.06L681.63 907.46M674.21 908.05L690.81 924.65M674.21 924.65L690.81 908.05M683.39 908.56L699.99 925.16M683.39 925.16L699.99 908.56M692.58 909.00L709.18 925.60M692.58 925.60L709.18 909.00M701.76 909.38L718.36 925.98M701.76 925.98L718.36 909.38M710.95 909.72L727.55 926.32M710.95 926.32L727.55 909.72M720.13 910.01L736.73 926.61M720.13 926.61L736.73 910.01M729.32 910.26L745.91 926.86M729.32 926.86L745.91 910.26M738.50 910.48L755.10 927.08M738.50 927.08L755.10 910.48M747.68 910.66L764.28 927.26M747.68 927.26L764.28 910.66M756.87 910.83L773.47 927.43M756.87 927.43L773.47 910.83M766.05 910.97L782.65 927.57M766.05 927.57L782.65 910.97M775.24 911.09L791.84 927.69M775.24 927.69L791.84 911.09M784.42 911.20L801.02 927.80M784.42 927.80L801.02 911.20M793.60 911.29L810.20 927.89M793.60 927.89L810.20 911.29M802.79 911.37L819.39 927.97M802.79 927.97L819.39 911.37M811.97 911.44L828.57 928.04M811.97 928.04L828.57 911.44M821.16 911.50L837.76 928.10M821.16 928.10L837.76 911.50M830.34 911.56L846.94 928.16M830.34 928.16L846.94 911.56M839.52 911.60L856.12 928.20M839.52 928.20L856.12 911.60M848.71 911.64L865.31 928.24M848.71 928.24L865.31 911.64M857.89 911.68L874.49 928.28M857.89 928.28L874.49 911.68M867.08 911.71L883.68 928.31M867.08 928.31L883.68 911.71M876.26 911.73L892.86 928.33M876.26 928.33L892.86 911.73M885.45 911.75L902.05 928.35M885.45 928.35L902.05 911.75M894.63 911.77L911.23 928.37M894.63 928.37L911.23 911.77M903.81 911.79L920.41 928.39M903.81 928.39L920.41 911.79M913.00 911.80L929.60 928.40M913.00 928.40L929.60 911.80M922.18 911.82L938.78 928.42M922.18 928.42L938.78 911.82M931.37 911.83L947.97 928.43M931.37 928.43L947.97 911.83M940.55 911.84L957.15 928.44M940.55 928.44L957.15 911.84M949.74 911.85L966.33 928.45M949.74 928.45L966.33 911.85M958.92 911.85L975.52 928.45M958.92 928.45L975.52 911.85M968.10 911.86L984.70 928.46M968.10 928.46L984.70 911.86M977.29 911.86L993.89 928.46M977.29 928.46L993.89 911.86M986.47 911.87L1003.07 928.47M986.47 928.47L1003.07 911.87M995.66 911.87L1012.26 928.47M995.66 928.47L1012.26 911.87M1004.84 911.88L1021.44 928.48M1004.84 928.48L1021.44 911.88M1014.02 911.88L1030.62 928.48M1014.02 928.48L1030.62 911.88M1023.21 911.88L1039.81 928.48M1023.21 928.48L1039.81 911.88M1032.39 911.89L1048.99 928.49M1032.39 928.49L1048.99 911.89M1041.58 911.89L1058.18 928.49M1041.58 928.49L1058.18 911.89M1050.76 911.89L1067.36 928.49M1050.76 928.49L1067.36 911.89M1059.94 911.89L1076.54 928.49M1059.94 928.49L1076.54 911.89M1069.13 911.89L1085.73 928.49M1069.13 928.49L1085.73 911.89M1078.31 911.89L1094.91 928.49M1078.31 928.49L1094.91 911.89M1087.50 911.89L1104.10 928.49M1087.50 928.49L1104.10 911.89M1096.68 911.89L1113.28 928.49M1096.68 928.49L1113.28 911.89M1105.87 911.90L1122.47 928.50M1105.87 928.50L1122.47 911.90M1115.05 911.90L1131.65 928.50M1115.05 928.50L1131.65 911.90M1124.23 911.90L1140.83 928.50M1124.23 928.50L1140.83 911.90M1133.42 911.90L1150.02 928.50M1133.42 928.50L1150.02 911.90M1142.60 911.90L1159.20 928.50M1142.60 928.50L1159.20 911.90M1151.79 911.90L1168.39 928.50M1151.79 928.50L1168.39 911.90M1160.97 911.90L1177.57 928.50M1160.97 928.50L1177.57 911.90M1170.15 911.90L1186.75 928.50M1170.15 928.50L1186.75 911.90M1179.34 911.90L1195.94 928.50M1179.34 928.50L1195.94 911.90M1188.52 911.90L1205.12 928.50M1188.52 928.50L1205.12 911.90M1197.71 911.90L1214.31 928.50M1197.71 928.50L1214.31 911.90M1206.89 911.90L1223.49 928.50M1206.89 928.50L1223.49 911.90M1216.08 911.90L1232.68 928.50M1216.08 928.50L1232.68 911.90M1225.26 911.90L1241.86 928.50M1225.26 928.50L1241.86 911.90" stroke="#EDB120" stroke-width="2.0" stroke-dasharray="none" fill="none"/><path d="M120.46 920.20H142.46M131.46 909.20V931.20M129.64 920.20H151.64M140.64 909.20V931.20M138.83 920.20H160.83M149.83 909.20V931.20M148.01 920.19H170.01M159.01 909.19V931.19M157.20 920.19H179.20M168.20 909.19V931.19M166.38 920.19H188.38M177.38 909.19V931.19M175.56 920.18H197.56M186.56 909.18V931.18M184.75 920.16H206.75M195.75 909.16V931.16M193.93 920.14H215.93M204.93 909.14V931.14M203.12 920.10H225.12M214.12 909.10V931.10M212.30 920.04H234.30M223.30 909.04V931.04M221.49 919.95H243.49M232.49 908.95V930.95M230.67 919.81H252.67M241.67 908.81V930.81M239.85 919.57H261.85M250.85 908.57V930.57M249.04 919.20H271.04M260.04 908.20V930.20M258.22 918.60H280.22M269.22 907.60V929.60M267.41 917.67H289.41M278.41 906.67V928.67M276.59 916.19H298.59M287.59 905.19V927.19M285.77 913.89H307.77M296.77 902.89V924.89M294.96 910.34H316.96M305.96 899.34V921.34M304.14 904.99H326.14M315.14 893.99V915.99M313.33 897.16H335.33M324.33 886.16V908.16M322.51 886.18H344.51M333.51 875.18V897.18M331.70 871.73H353.70M342.70 860.73V882.73M340.88 854.15H362.88M351.88 843.15V865.15M350.06 834.80H372.06M361.06 823.80V845.80M359.25 815.84H381.25M370.25 804.84V826.84M368.43 799.62H390.43M379.43 788.62V810.62M377.62 787.87H399.62M388.62 776.87V798.87M386.80 781.30H408.80M397.80 770.30V792.30M395.99 779.72H417.99M406.99 768.72V790.72M405.17 782.33H427.17M416.17 771.33V793.33M414.35 788.11H436.35M425.35 777.11V799.11M423.54 796.04H445.54M434.54 785.04V807.04M432.72 805.25H454.72M443.72 794.25V816.25M441.91 815.05H463.91M452.91 804.05V826.05M451.09 824.94H473.09M462.09 813.94V835.94M460.27 834.58H482.27M471.27 823.58V845.58M469.46 843.72H491.46M480.46 832.72V854.72M478.64 852.23H500.64M489.64 841.23V863.23M487.83 860.04H509.83M498.83 849.04V871.04M497.01 867.14H519.01M508.01 856.14V878.14M506.19 873.54H528.19M517.19 862.54V884.54M515.38 879.26H537.38M526.38 868.26V890.26M524.56 884.34H546.56M535.56 873.34V895.34M533.75 888.85H555.75M544.75 877.85V899.85M542.93 892.82H564.93M553.93 881.82V903.82M552.12 896.32H574.12M563.12 885.32V907.32M561.30 899.39H583.30M572.30 888.39V910.39M570.48 902.08H592.48M581.48 891.08V913.08M579.67 904.43H601.67M590.67 893.43V915.43M588.85 906.49H610.85M599.85 895.49V917.49M598.04 908.28H620.04M609.04 897.28V919.28M607.22 909.84H629.22M618.22 898.84V920.84M616.40 911.20H638.40M627.40 900.20V922.20M625.59 912.38H647.59M636.59 901.38V923.38M634.77 913.41H656.77M645.77 902.41V924.41M643.96 914.31H665.96M654.96 903.31V925.31M653.14 915.09H675.14M664.14 904.09V926.09M662.33 915.76H684.33M673.33 904.76V926.76M671.51 916.35H693.51M682.51 905.35V927.35M680.69 916.86H702.69M691.69 905.86V927.86M689.88 917.30H711.88M700.88 906.30V928.30M699.06 917.68H721.06M710.06 906.68V928.68M708.25 918.02H730.25M719.25 907.02V929.02M717.43 918.31H739.43M728.43 907.31V929.31M726.62 918.56H748.62M737.62 907.56V929.56M735.80 918.78H757.80M746.80 907.78V929.78M744.98 918.96H766.98M755.98 907.96V929.96M754.17 919.13H776.17M765.17 908.13V930.13M763.35 919.27H785.35M774.35 908.27V930.27M772.54 919.39H794.54M783.54 908.39V930.39M781.72 919.50H803.72M792.72 908.50V930.50M790.90 919.59H812.90M801.90 908.59V930.59M800.09 919.67H822.09M811.09 908.67V930.67M809.27 919.74H831.27M820.27 908.74V930.74M818.46 919.80H840.46M829.46 908.80V930.80M827.64 919.86H849.64M838.64 908.86V930.86M836.82 919.90H858.82M847.82 908.90V930.90M846.01 919.94H868.01M857.01 908.94V930.94M855.19 919.98H877.19M866.19 908.98V930.98M864.38 920.01H886.38M875.38 909.01V931.01M873.56 920.03H895.56M884.56 909.03V931.03M882.75 920.05H904.75M893.75 909.05V931.05M891.93 920.07H913.93M902.93 909.07V931.07M901.11 920.09H923.11M912.11 909.09V931.09M910.30 920.10H932.30M921.30 909.10V931.10M919.48 920.12H941.48M930.48 909.12V931.12M928.67 920.13H950.67M939.67 909.13V931.13M937.85 920.14H959.85M948.85 909.14V931.14M947.03 920.15H969.03M958.03 909.15V931.15M956.22 920.15H978.22M967.22 909.15V931.15M965.40 920.16H987.40M976.40 909.16V931.16M974.59 920.16H996.59M985.59 909.16V931.16M983.77 920.17H1005.77M994.77 909.17V931.17M992.96 920.17H1014.96M1003.96 909.17V931.17M1002.14 920.18H1024.14M1013.14 909.18V931.18M1011.32 920.18H1033.32M1022.32 909.18V931.18M1020.51 920.18H1042.51M1031.51 909.18V931.18M1029.69 920.19H1051.69M1040.69 909.19V931.19M1038.88 920.19H1060.88M1049.88 909.19V931.19M1048.06 920.19H1070.06M1059.06 909.19V931.19M1057.24 920.19H1079.24M1068.24 909.19V931.19M1066.43 920.19H1088.43M1077.43 909.19V931.19M1075.61 920.19H1097.61M1086.61 909.19V931.19M1084.80 920.19H1106.80M1095.80 909.19V931.19M1093.98 920.19H1115.98M1104.98 909.19V931.19M1103.17 920.20H1125.17M1114.17 909.20V931.20M1112.35 920.20H1134.35M1123.35 909.20V931.20M1121.53 920.20H1143.53M1132.53 909.20V931.20M1130.72 920.20H1152.72M1141.72 909.20V931.20M1139.90 920.20H1161.90M1150.90 909.20V931.20M1149.09 920.20H1171.09M1160.09 909.20V931.20M1158.27 920.20H1180.27M1169.27 909.20V931.20M1167.45 920.20H1189.45M1178.45 909.20V931.20M1176.64 920.20H1198.64M1187.64 909.20V931.20M1185.82 920.20H1207.82M1196.82 909.20V931.20M1195.01 920.20H1217.01M1206.01 909.20V931.20M1204.19 920.20H1226.19M1215.19 909.20V931.20M1213.38 920.20H1235.38M1224.38 909.20V931.20M1222.56 920.20H1244.56M1233.56 909.20V931.20" stroke="#EDB120" stroke-width="2.4" fill="none"/>
<path d="M131.46 920.20L140.64 920.20L149.83 920.20L159.01 920.20L168.20 920.19L177.38 920.19L186.56 920.18L195.75 920.17L204.93 920.16L214.12 920.13L223.30 920.09L232.49 920.02L241.67 919.91L250.85 919.74L260.04 919.47L269.22 919.03L278.41 918.34L287.59 917.24L296.77 915.51L305.96 912.80L315.14 908.59L324.33 902.17L333.51 892.58L342.70 878.71L351.88 859.44L361.06 833.97L370.25 802.10L379.43 764.41L388.62 722.15L397.80 676.96L406.99 630.55L416.17 584.42L425.35 539.78L434.54 497.48L443.72 458.07L452.91 421.83L462.09 388.87L471.27 359.14L480.46 332.52L489.64 308.81L498.83 287.78L508.01 269.21L517.19 252.86L526.38 238.50L535.56 225.91L544.75 214.90L553.93 205.27L563.12 196.88L572.30 189.56L581.48 183.18L590.67 177.63L599.85 172.80L609.04 168.60L618.22 164.95L627.40 161.78L636.59 159.03L645.77 156.64L654.96 154.56L664.14 152.76L673.33 151.19L682.51 149.83L691.69 148.66L700.88 147.63L710.06 146.75L719.25 145.98L728.43 145.31L737.62 144.73L746.80 144.23L755.98 143.79L765.17 143.42L774.35 143.09L783.54 142.80L792.72 142.56L801.90 142.34L811.09 142.16L820.27 142.00L829.46 141.86L838.64 141.74L847.82 141.63L857.01 141.54L866.19 141.46L875.38 141.39L884.56 141.33L893.75 141.28L902.93 141.24L912.11 141.20L921.30 141.17L930.48 141.14L939.67 141.11L948.85 141.09L958.03 141.07L967.22 141.05L976.40 141.04L985.59 141.03L994.77 141.02L1003.96 141.01L1013.14 141.00L1022.32 140.99L1031.51 140.99L1040.69 140.98L1049.88 140.98L1059.06 140.97L1068.24 140.97L1077.43 140.97L1086.61 140.96L1095.80 140.96L1104.98 140.96L1114.17 140.96L1123.35 140.96L1132.53 140.95L1141.72 140.95L1150.90 140.95L1160.09 140.95L1169.27 140.95L1178.45 140.95L1187.64 140.95L1196.82 140.95L1206.01 140.95L1215.19 140.95L1224.38 140.95L1233.56 140.95" stroke="#7E2F8E" stroke-width="1.6" fill="none" stroke-linejoin="round" clip-path="url(#ax)"/>
<path d="M123.16 911.90L139.76 928.50M123.16 928.50L139.76 911.90M132.34 911.90L148.94 928.50M132.34 928.50L148.94 911.90M141.53 911.90L158.13 928.50M141.53 928.50L158.13 911.90M150.71 911.90L167.31 928.50M150.71 928.50L167.31 911.90M159.90 911.89L176.50 928.49M159.90 928.49L176.50 911.89M169.08 911.89L185.68 928.49M169.08 928.49L185.68 911.89M178.26 911.88L194.87 928.48M178.26 928.48L194.87 911.88M187.45 911.87L204.05 928.47M187.45 928.47L204.05 911.87M196.63 911.86L213.23 928.46M196.63 928.46L213.23 911.86M205.82 911.83L222.42 928.43M205.82 928.43L222.42 911.83M215.00 911.79L231.60 928.39M215.00 928.39L231.60 911.79M224.19 911.72L240.79 928.32M224.19 928.32L240.79 911.72M233.37 911.61L249.97 928.21M233.37 928.21L249.97 911.61M242.55 911.44L259.15 928.04M242.55 928.04L259.15 911.44M251.74 911.17L268.34 927.77M251.74 927.77L268.34 911.17M260.92 910.73L277.52 927.33M260.92 927.33L277.52 910.73M270.11 910.04L286.71 926.64M270.11 926.64L286.71 910.04M279.29 908.94L295.89 925.54M279.29 925.54L295.89 908.94M288.47 907.21L305.07 923.81M288.47 923.81L305.07 907.21M297.66 904.50L314.26 921.10M297.66 921.10L314.26 904.50M306.84 900.29L323.44 916.89M306.84 916.89L323.44 900.29M316.03 893.87L332.63 910.47M316.03 910.47L332.63 893.87M325.21 884.28L341.81 900.88M325.21 900.88L341.81 884.28M334.40 870.41L351.00 887.01M334.40 887.01L351.00 870.41M343.58 851.14L360.18 867.74M343.58 867.74L360.18 851.14M352.76 825.67L369.36 842.27M352.76 842.27L369.36 825.67M361.95 793.80L378.55 810.40M361.95 810.40L378.55 793.80M371.13 756.11L387.73 772.71M371.13 772.71L387.73 756.11M380.32 713.85L396.92 730.45M380.32 730.45L396.92 713.85M389.50 668.66L406.10 685.26M389.50 685.26L406.10 668.66M398.69 622.25L415.29 638.85M398.69 638.85L415.29 622.25M407.87 576.12L424.47 592.72M407.87 592.72L424.47 576.12M417.05 531.48L433.65 548.08M417.05 548.08L433.65 531.48M426.24 489.18L442.84 505.78M426.24 505.78L442.84 489.18M435.42 449.77L452.02 466.37M435.42 466.37L452.02 449.77M444.61 413.53L461.21 430.13M444.61 430.13L461.21 413.53M453.79 380.57L470.39 397.17M453.79 397.17L470.39 380.57M462.97 350.84L479.57 367.44M462.97 367.44L479.57 350.84M472.16 324.22L488.76 340.82M472.16 340.82L488.76 324.22M481.34 300.51L497.94 317.11M481.34 317.11L497.94 300.51M490.53 279.48L507.13 296.08M490.53 296.08L507.13 279.48M499.71 260.91L516.31 277.51M499.71 277.51L516.31 260.91M508.89 244.56L525.49 261.16M508.89 261.16L525.49 244.56M518.08 230.20L534.68 246.80M518.08 246.80L534.68 230.20M527.26 217.61L543.86 234.21M527.26 234.21L543.86 217.61M536.45 206.60L553.05 223.20M536.45 223.20L553.05 206.60M545.63 196.97L562.23 213.57M545.63 213.57L562.23 196.97M554.82 188.58L571.42 205.18M554.82 205.18L571.42 188.58M564.00 181.26L580.60 197.86M564.00 197.86L580.60 181.26M573.18 174.88L589.78 191.48M573.18 191.48L589.78 174.88M582.37 169.33L598.97 185.93M582.37 185.93L598.97 169.33M591.55 164.50L608.15 181.10M591.55 181.10L608.15 164.50M600.74 160.30L617.34 176.90M600.74 176.90L617.34 160.30M609.92 156.65L626.52 173.25M609.92 173.25L626.52 156.65M619.11 153.48L635.70 170.08M619.11 170.08L635.70 153.48M628.29 150.73L644.89 167.33M628.29 167.33L644.89 150.73M637.47 148.34L654.07 164.94M637.47 164.94L654.07 148.34M646.66 146.26L663.26 162.86M646.66 162.86L663.26 146.26M655.84 144.46L672.44 161.06M655.84 161.06L672.44 144.46M665.03 142.89L681.63 159.49M665.03 159.49L681.63 142.89M674.21 141.53L690.81 158.13M674.21 158.13L690.81 141.53M683.39 140.36L699.99 156.96M683.39 156.96L699.99 140.36M692.58 139.33L709.18 155.93M692.58 155.93L709.18 139.33M701.76 138.45L718.36 155.05M701.76 155.05L718.36 138.45M710.95 137.68L727.55 154.28M710.95 154.28L727.55 137.68M720.13 137.01L736.73 153.61M720.13 153.61L736.73 137.01M729.32 136.43L745.91 153.03M729.32 153.03L745.91 136.43M738.50 135.93L755.10 152.53M738.50 152.53L755.10 135.93M747.68 135.49L764.28 152.09M747.68 152.09L764.28 135.49M756.87 135.12L773.47 151.72M756.87 151.72L773.47 135.12M766.05 134.79L782.65 151.39M766.05 151.39L782.65 134.79M775.24 134.50L791.84 151.10M775.24 151.10L791.84 134.50M784.42 134.26L801.02 150.86M784.42 150.86L801.02 134.26M793.60 134.04L810.20 150.64M793.60 150.64L810.20 134.04M802.79 133.86L819.39 150.46M802.79 150.46L819.39 133.86M811.97 133.70L828.57 150.30M811.97 150.30L828.57 133.70M821.16 133.56L837.76 150.16M821.16 150.16L837.76 133.56M830.34 133.44L846.94 150.04M830.34 150.04L846.94 133.44M839.52 133.33L856.12 149.93M839.52 149.93L856.12 133.33M848.71 133.24L865.31 149.84M848.71 149.84L865.31 133.24M857.89 133.16L874.49 149.76M857.89 149.76L874.49 133.16M867.08 133.09L883.68 149.69M867.08 149.69L883.68 133.09M876.26 133.03L892.86 149.63M876.26 149.63L892.86 133.03M885.45 132.98L902.05 149.58M885.45 149.58L902.05 132.98M894.63 132.94L911.23 149.54M894.63 149.54L911.23 132.94M903.81 132.90L920.41 149.50M903.81 149.50L920.41 132.90M913.00 132.87L929.60 149.47M913.00 149.47L929.60 132.87M922.18 132.84L938.78 149.44M922.18 149.44L938.78 132.84M931.37 132.81L947.97 149.41M931.37 149.41L947.97 132.81M940.55 132.79L957.15 149.39M940.55 149.39L957.15 132.79M949.74 132.77L966.33 149.37M949.74 149.37L966.33 132.77M958.92 132.75L975.52 149.35M958.92 149.35L975.52 132.75M968.10 132.74L984.70 149.34M968.10 149.34L984.70 132.74M977.29 132.73L993.89 149.33M977.29 149.33L993.89 132.73M986.47 132.72L1003.07 149.32M986.47 149.32L1003.07 132.72M995.66 132.71L1012.26 149.31M995.66 149.31L1012.26 132.71M1004.84 132.70L1021.44 149.30M1004.84 149.30L1021.44 132.70M1014.02 132.69L1030.62 149.29M1014.02 149.29L1030.62 132.69M1023.21 132.69L1039.81 149.29M1023.21 149.29L1039.81 132.69M1032.39 132.68L1048.99 149.28M1032.39 149.28L1048.99 132.68M1041.58 132.68L1058.18 149.28M1041.58 149.28L1058.18 132.68M1050.76 132.67L1067.36 149.27M1050.76 149.27L1067.36 132.67M1059.94 132.67L1076.54 149.27M1059.94 149.27L1076.54 132.67M1069.13 132.67L1085.73 149.27M1069.13 149.27L1085.73 132.67M1078.31 132.66L1094.91 149.26M1078.31 149.26L1094.91 132.66M1087.50 132.66L1104.10 149.26M1087.50 149.26L1104.10 132.66M1096.68 132.66L1113.28 149.26M1096.68 149.26L1113.28 132.66M1105.87 132.66L1122.47 149.26M1105.87 149.26L1122.47 132.66M1115.05 132.66L1131.65 149.26M1115.05 149.26L1131.65 132.66M1124.23 132.65L1140.83 149.25M1124.23 149.25L1140.83 132.65M1133.42 132.65L1150.02 149.25M1133.42 149.25L1150.02 132.65M1142.60 132.65L1159.20 149.25M1142.60 149.25L1159.20 132.65M1151.79 132.65L1168.39 149.25M1151.79 149.25L1168.39 132.65M1160.97 132.65L1177.57 149.25M1160.97 149.25L1177.57 132.65M1170.15 132.65L1186.75 149.25M1170.15 149.25L1186.75 132.65M1179.34 132.65L1195.94 149.25M1179.34 149.25L1195.94 132.65M1188.52 132.65L1205.12 149.25M1188.52 149.25L1205.12 132.65M1197.71 132.65L1214.31 149.25M1197.71 149.25L1214.31 132.65M1206.89 132.65L1223.49 149.25M1206.89 149.25L1223.49 132.65M1216.08 132.65L1232.68 149.25M1216.08 149.25L1232.68 132.65M1225.26 132.65L1241.86 149.25M1225.26 149.25L1241.86 132.65" stroke="#7E2F8E" stroke-width="2.0" stroke-dasharray="none" fill="none"/><path d="M120.46 920.20H142.46M131.46 909.20V931.20M129.64 920.20H151.64M140.64 909.20V931.20M138.83 920.20H160.83M149.83 909.20V931.20M148.01 920.20H170.01M159.01 909.20V931.20M157.20 920.19H179.20M168.20 909.19V931.19M166.38 920.19H188.38M177.38 909.19V931.19M175.56 920.18H197.56M186.56 909.18V931.18M184.75 920.17H206.75M195.75 909.17V931.17M193.93 920.16H215.93M204.93 909.16V931.16M203.12 920.13H225.12M214.12 909.13V931.13M212.30 920.09H234.30M223.30 909.09V931.09M221.49 920.02H243.49M232.49 909.02V931.02M230.67 919.91H252.67M241.67 908.91V930.91M239.85 919.74H261.85M250.85 908.74V930.74M249.04 919.47H271.04M260.04 908.47V930.47M258.22 919.03H280.22M269.22 908.03V930.03M267.41 918.34H289.41M278.41 907.34V929.34M276.59 917.24H298.59M287.59 906.24V928.24M285.77 915.51H307.77M296.77 904.51V926.51M294.96 912.80H316.96M305.96 901.80V923.80M304.14 908.59H326.14M315.14 897.59V919.59M313.33 902.17H335.33M324.33 891.17V913.17M322.51 892.58H344.51M333.51 881.58V903.58M331.70 878.71H353.70M342.70 867.71V889.71M340.88 859.44H362.88M351.88 848.44V870.44M350.06 833.97H372.06M361.06 822.97V844.97M359.25 802.10H381.25M370.25 791.10V813.10M368.43 764.41H390.43M379.43 753.41V775.41M377.62 722.15H399.62M388.62 711.15V733.15M386.80 676.96H408.80M397.80 665.96V687.96M395.99 630.55H417.99M406.99 619.55V641.55M405.17 584.42H427.17M416.17 573.42V595.42M414.35 539.78H436.35M425.35 528.78V550.78M423.54 497.48H445.54M434.54 486.48V508.48M432.72 458.07H454.72M443.72 447.07V469.07M441.91 421.83H463.91M452.91 410.83V432.83M451.09 388.87H473.09M462.09 377.87V399.87M460.27 359.14H482.27M471.27 348.14V370.14M469.46 332.52H491.46M480.46 321.52V343.52M478.64 308.81H500.64M489.64 297.81V319.81M487.83 287.78H509.83M498.83 276.78V298.78M497.01 269.21H519.01M508.01 258.21V280.21M506.19 252.86H528.19M517.19 241.86V263.86M515.38 238.50H537.38M526.38 227.50V249.50M524.56 225.91H546.56M535.56 214.91V236.91M533.75 214.90H555.75M544.75 203.90V225.90M542.93 205.27H564.93M553.93 194.27V216.27M552.12 196.88H574.12M563.12 185.88V207.88M561.30 189.56H583.30M572.30 178.56V200.56M570.48 183.18H592.48M581.48 172.18V194.18M579.67 177.63H601.67M590.67 166.63V188.63M588.85 172.80H610.85M599.85 161.80V183.80M598.04 168.60H620.04M609.04 157.60V179.60M607.22 164.95H629.22M618.22 153.95V175.95M616.40 161.78H638.40M627.40 150.78V172.78M625.59 159.03H647.59M636.59 148.03V170.03M634.77 156.64H656.77M645.77 145.64V167.64M643.96 154.56H665.96M654.96 143.56V165.56M653.14 152.76H675.14M664.14 141.76V163.76M662.33 151.19H684.33M673.33 140.19V162.19M671.51 149.83H693.51M682.51 138.83V160.83M680.69 148.66H702.69M691.69 137.66V159.66M689.88 147.63H711.88M700.88 136.63V158.63M699.06 146.75H721.06M710.06 135.75V157.75M708.25 145.98H730.25M719.25 134.98V156.98M717.43 145.31H739.43M728.43 134.31V156.31M726.62 144.73H748.62M737.62 133.73V155.73M735.80 144.23H757.80M746.80 133.23V155.23M744.98 143.79H766.98M755.98 132.79V154.79M754.17 143.42H776.17M765.17 132.42V154.42M763.35 143.09H785.35M774.35 132.09V154.09M772.54 142.80H794.54M783.54 131.80V153.80M781.72 142.56H803.72M792.72 131.56V153.56M790.90 142.34H812.90M801.90 131.34V153.34M800.09 142.16H822.09M811.09 131.16V153.16M809.27 142.00H831.27M820.27 131.00V153.00M818.46 141.86H840.46M829.46 130.86V152.86M827.64 141.74H849.64M838.64 130.74V152.74M836.82 141.63H858.82M847.82 130.63V152.63M846.01 141.54H868.01M857.01 130.54V152.54M855.19 141.46H877.19M866.19 130.46V152.46M864.38 141.39H886.38M875.38 130.39V152.39M873.56 141.33H895.56M884.56 130.33V152.33M882.75 141.28H904.75M893.75 130.28V152.28M891.93 141.24H913.93M902.93 130.24V152.24M901.11 141.20H923.11M912.11 130.20V152.20M910.30 141.17H932.30M921.30 130.17V152.17M919.48 141.14H941.48M930.48 130.14V152.14M928.67 141.11H950.67M939.67 130.11V152.11M937.85 141.09H959.85M948.85 130.09V152.09M947.03 141.07H969.03M958.03 130.07V152.07M956.22 141.05H978.22M967.22 130.05V152.05M965.40 141.04H987.40M976.40 130.04V152.04M974.59 141.03H996.59M985.59 130.03V152.03M983.77 141.02H1005.77M994.77 130.02V152.02M992.96 141.01H1014.96M1003.96 130.01V152.01M1002.14 141.00H1024.14M1013.14 130.00V152.00M1011.32 140.99H1033.32M1022.32 129.99V151.99M1020.51 140.99H1042.51M1031.51 129.99V151.99M1029.69 140.98H1051.69M1040.69 129.98V151.98M1038.88 140.98H1060.88M1049.88 129.98V151.98M1048.06 140.97H1070.06M1059.06 129.97V151.97M1057.24 140.97H1079.24M1068.24 129.97V151.97M1066.43 140.97H1088.43M1077.43 129.97V151.97M1075.61 140.96H1097.61M1086.61 129.96V151.96M1084.80 140.96H1106.80M1095.80 129.96V151.96M1093.98 140.96H1115.98M1104.98 129.96V151.96M1103.17 140.96H1125.17M1114.17 129.96V151.96M1112.35 140.96H1134.35M1123.35 129.96V151.96M1121.53 140.95H1143.53M1132.53 129.95V151.95M1130.72 140.95H1152.72M1141.72 129.95V151.95M1139.90 140.95H1161.90M1150.90 129.95V151.95M1149.09 140.95H1171.09M1160.09 129.95V151.95M1158.27 140.95H1180.27M1169.27 129.95V151.95M1167.45 140.95H1189.45M1178.45 129.95V151.95M1176.64 140.95H1198.64M1187.64 129.95V151.95M1185.82 140.95H1207.82M1196.82 129.95V151.95M1195.01 140.95H1217.01M1206.01 129.95V151.95M1204.19 140.95H1226.19M1215.19 129.95V151.95M1213.38 140.95H1235.38M1224.38 129.95V151.95M1222.56 140.95H1244.56M1233.56 129.95V151.95" stroke="#7E2F8E" stroke-width="2.4" fill="none"/>
<text x="130.30" y="980.3" font-family='"Liberation Serif", serif' font-size="47" fill="#262626" text-anchor="middle">0</text>
<text x="315.80" y="980.3" font-family='"Liberation Serif", serif' font-size="47" fill="#262626" text-anchor="middle">20</text>
<text x="498.85" y="980.3" font-family='"Liberation Serif", serif' font-size="47" fill="#262626" text-anchor="middle">40</text>
<text x="681.70" y="980.3" font-family='"Liberation Serif", serif' font-size="47" fill="#262626" text-anchor="middle">60</text>
<text x="867.40" y="980.3" font-family='"Liberation Serif", serif' font-size="47" fill="#262626" text-anchor="middle">80</text>
<text x="1052.40" y="980.3" font-family='"Liberation Serif", serif' font-size="47" fill="#262626" text-anchor="middle">100</text>
<text x="1235.00" y="980.3" font-family='"Liberation Serif", serif' font-size="47" fill="#262626" text-anchor="middle">120</text>
<text x="114.50" y="936.10" font-family='"Liberation Serif", serif' font-size="47" fill="#262626" text-anchor="end">0</text>
<text x="113.00" y="793.75" font-family='"Liberation Serif", serif' font-size="47" fill="#262626" text-anchor="end">2</text>
<text x="113.20" y="651.90" font-family='"Liberation Serif", serif' font-size="47" fill="#262626" text-anchor="end">4</text>
<text x="113.30" y="508.55" font-family='"Liberation Serif", serif' font-size="47" fill="#262626" text-anchor="end">6</text>
<text x="112.70" y="366.20" font-family='"Liberation Serif", serif' font-size="47" fill="#262626" text-anchor="end">8</text>
<text x="115.80" y="223.35" font-family='"Liberation Serif", serif' font-size="47" fill="#262626" text-anchor="end">10</text>
<text x="116.00" y="81.80" font-family='"Liberation Serif", serif' font-size="47" fill="#262626" text-anchor="end">12</text>
<path d="M137.6 33.4L158.7 54.6M137.6 54.6L158.7 33.4" stroke="#262626" stroke-width="1.7" fill="none"/>
<text x="167.6" y="55.2" font-family='"Liberation Serif", serif' font-size="47" fill="#262626">10</text>
<text x="214.6" y="33.2" font-family='"Liberation Serif", serif' font-size="38" fill="#262626">6</text>
<text x="683.5" y="44.6" font-family='"Liberation Serif", serif' font-size="51" fill="#000" text-anchor="middle">a</text>
<text x="683.75" y="1040.6" font-family='"Liberation Serif", serif' font-size="53" fill="#262626" text-anchor="middle">Time</text>
<text transform="translate(45.3 493.2) rotate(-90)" font-family='"Liberation Serif", serif' font-size="53" fill="#262626" text-anchor="middle">Number of persons</text>
<rect x="1066.1" y="101.0" width="132.10" height="251.90" fill="#fff" stroke="#262626" stroke-width="2"/>
<path d="M1073.4 131.5H1152.0" stroke="#0072BD" stroke-width="2.3"/>
<path d="M1103.80 122.40L1122.00 140.60M1103.80 140.60L1122.00 122.40" stroke="#0072BD" stroke-width="2.0" stroke-dasharray="none" fill="none"/><path d="M1101.60 131.50H1124.20M1112.90 120.20V142.80" stroke="#0072BD" stroke-width="2.4" fill="none"/>
<text x="1158.6" y="146.7" font-family='"Liberation Serif", serif' font-size="44" fill="#000">S</text>
<path d="M1073.4 192.5H1152.0" stroke="#D95319" stroke-width="2.3"/>
<path d="M1103.80 183.40L1122.00 201.60M1103.80 201.60L1122.00 183.40" stroke="#D95319" stroke-width="2.0" stroke-dasharray="none" fill="none"/><path d="M1101.60 192.50H1124.20M1112.90 181.20V203.80" stroke="#D95319" stroke-width="2.4" fill="none"/>
<text x="1158.2" y="197.1" font-family='"Liberation Serif", serif' font-size="42" fill="#000">I</text>
<text x="1173.0" y="217.6" font-family='"Liberation Serif", serif' font-size="34" fill="#000">a</text>
<path d="M1073.4 261.7H1152.0" stroke="#EDB120" stroke-width="2.3"/>
<path d="M1103.80 252.60L1122.00 270.80M1103.80 270.80L1122.00 252.60" stroke="#EDB120" stroke-width="2.0" stroke-dasharray="none" fill="none"/><path d="M1101.60 261.70H1124.20M1112.90 250.40V273.00" stroke="#EDB120" stroke-width="2.4" fill="none"/>
<text x="1157.8" y="268.3" font-family='"Liberation Serif", serif' font-size="42" fill="#000">I</text>
<text x="1173.0" y="288.9" font-family='"Liberation Serif", serif' font-size="34" fill="#000">s</text>
<path d="M1073.4 322.8H1152.0" stroke="#7E2F8E" stroke-width="2.3"/>
<path d="M1103.80 313.70L1122.00 331.90M1103.80 331.90L1122.00 313.70" stroke="#7E2F8E" stroke-width="2.0" stroke-dasharray="none" fill="none"/><path d="M1101.60 322.80H1124.20M1112.90 311.50V334.10" stroke="#7E2F8E" stroke-width="2.4" fill="none"/>
<text x="1158.0" y="339.3" font-family='"Liberation Serif", serif' font-size="42" fill="#000">R</text>
</svg>
</body></html>
